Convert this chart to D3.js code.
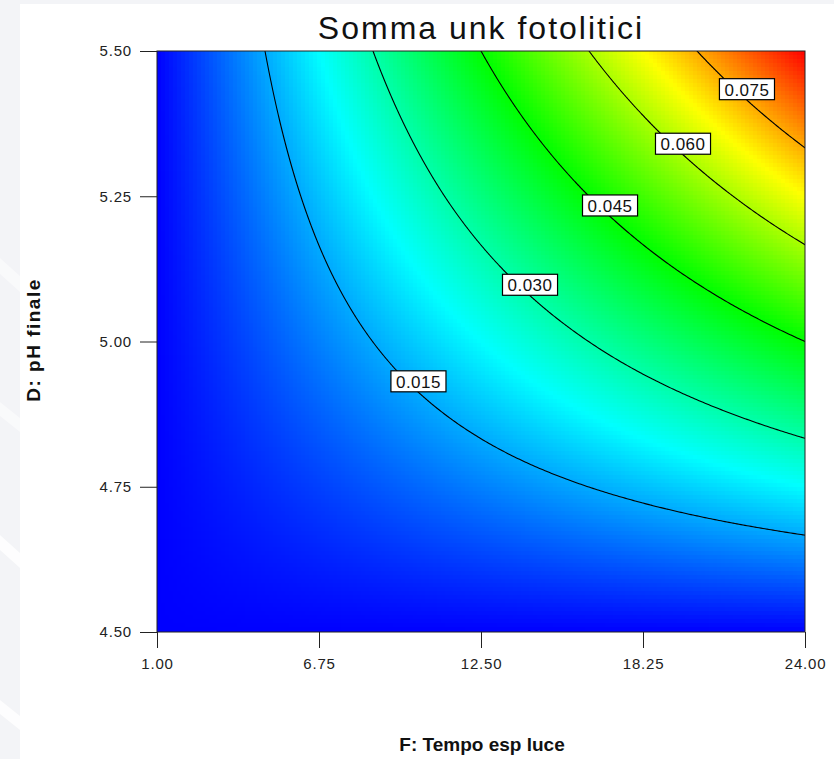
<!DOCTYPE html>
<html>
<head>
<meta charset="utf-8">
<script src="https://cdn.jsdelivr.net/npm/d3@7"></script>
<style>
  html, body { margin: 0; padding: 0; background: #ffffff; }
  svg { display: block; }
  text { font-family: "Liberation Sans", Arial, sans-serif; }
</style>
</head>
<body>
<svg id="chart" width="834" height="759"></svg>
<script>
// Response surface "Somma unk fotolitici" over F (Tempo esp luce) and D (pH finale)
const fValues = [1, 6.75, 12.5, 18.25, 24];
const dValues = [4.5, 4.75, 5.0, 5.25, 5.5];
// rows follow dValues (bottom to top), columns follow fValues
const response = [
  [0.0000, 0.0000, 0.0000, 0.0000, 0.0000],
  [0.0000, 0.0056, 0.0113, 0.0169, 0.0225],
  [0.0000, 0.0113, 0.0225, 0.0338, 0.0450],
  [0.0000, 0.0169, 0.0338, 0.0506, 0.0675],
  [0.0000, 0.0225, 0.0450, 0.0675, 0.0900]
];
const contourLevels = [0.015, 0.030, 0.045, 0.060, 0.075];
const contourLabels = ["0.015", "0.030", "0.045", "0.060", "0.075"];
const labelAtF = [10.28, 14.24, 17.08, 19.67, 21.94];
const xTicks = [1, 6.75, 12.5, 18.25, 24];
const yTicks = [4.5, 4.75, 5.0, 5.25, 5.5];
const colorStops = [0, 0.0225, 0.045, 0.0675, 0.09];
const colorRange = ["#0000ff", "#00ffff", "#00ff00", "#ffff00", "#ff0000"];

const svg = d3.select("#chart");
const margin = { left: 157, top: 51 };
const W = 648, H = 581;

// page background: pale strip on the left and top edges with light diagonal bands
svg.append("rect").attr("width", 834).attr("height", 759).attr("fill", "#f3f4f7");
svg.append("rect").attr("x", 20).attr("y", 4).attr("width", 814).attr("height", 755).attr("fill", "#ffffff");
const deco = svg.append("g").attr("fill", "#ffffff");
deco.append("path").attr("d", "M0,258 L20,276 L20,292 L0,274 Z").attr("opacity", 0.5);
deco.append("path").attr("d", "M0,402 L20,418 L20,432 L0,416 Z").attr("opacity", 0.5);
deco.append("path").attr("d", "M0,535 L20,553 L20,568 L0,550 Z").attr("opacity", 0.8);
deco.append("path").attr("d", "M0,700 L20,716 L20,730 L0,714 Z").attr("opacity", 0.8);

const x = d3.scaleLinear().domain([1, 24]).range([0, W]);
const y = d3.scaleLinear().domain([4.5, 5.5]).range([H, 0]);
const color = d3.scaleLinear().domain(colorStops).range(colorRange).clamp(true);

// bilinear evaluation of the response grid (extends linearly past the edges)
function cellIndex(arr, v) {
  const i = d3.bisectRight(arr, v) - 1;
  return Math.max(0, Math.min(arr.length - 2, i));
}
function surface(f, d) {
  const i = cellIndex(fValues, f), j = cellIndex(dValues, d);
  const tx = (f - fValues[i]) / (fValues[i + 1] - fValues[i]);
  const ty = (d - dValues[j]) / (dValues[j + 1] - dValues[j]);
  const a = response[j][i], b = response[j][i + 1];
  const c = response[j + 1][i], e = response[j + 1][i + 1];
  return (a * (1 - tx) + b * tx) * (1 - ty) + (c * (1 - tx) + e * tx) * ty;
}

const plot = svg.append("g").attr("transform", `translate(${margin.left},${margin.top})`);
svg.append("defs").append("clipPath").attr("id", "plotClip")
  .append("rect").attr("width", W).attr("height", H);

// colour field, painted in small square cells
const cell = 4;
const cols = Math.ceil(W / cell), rows = Math.ceil(H / cell);
const canvas = document.createElement("canvas");
canvas.width = cols; canvas.height = rows;
const ctx = canvas.getContext("2d");
const img = ctx.createImageData(cols, rows);
for (let j = 0; j < rows; j++) {
  for (let i = 0; i < cols; i++) {
    const v = surface(x.invert((i + 0.5) * cell), y.invert(Math.min(H, (j + 0.5) * cell)));
    const c = d3.rgb(color(v));
    const k = (j * cols + i) * 4;
    img.data[k] = c.r; img.data[k + 1] = c.g; img.data[k + 2] = c.b; img.data[k + 3] = 255;
  }
}
ctx.putImageData(img, 0, 0);
plot.append("g").attr("clip-path", "url(#plotClip)")
  .append("image")
  .attr("href", canvas.toDataURL())
  .attr("width", cols * cell).attr("height", rows * cell)
  .attr("preserveAspectRatio", "none")
  .style("image-rendering", "pixelated");

// contour lines from a fine sampling of the surface (padded past the frame)
const s = 2;
const nx = Math.ceil(W / s) + 3, ny = Math.ceil(H / s) + 3;
const grid = new Array(nx * ny);
for (let j = 0; j < ny; j++) {
  for (let i = 0; i < nx; i++) {
    grid[i + j * nx] = surface(x.invert((i - 1) * s), y.invert((j - 1) * s));
  }
}
const contours = d3.contours().size([nx, ny]).thresholds(contourLevels)(grid);
const toPx = p => [(p[0] - 1.5) * s, (p[1] - 1.5) * s];
const ringPath = ring => "M" + ring.map(p => toPx(p).join(",")).join("L") + "Z";
plot.append("g").attr("clip-path", "url(#plotClip)")
  .selectAll("path").data(contours).join("path")
  .attr("d", c => c.coordinates.map(poly => poly.map(ringPath).join("")).join(""))
  .attr("fill", "none").attr("stroke", "#000").attr("stroke-width", 1.1);

// contour labels sit just above the line
function levelD(f, level) {
  let lo = 4.5, hi = 5.5;
  for (let n = 0; n < 50; n++) {
    const mid = (lo + hi) / 2;
    if (surface(f, mid) < level) lo = mid; else hi = mid;
  }
  return (lo + hi) / 2;
}
contourLevels.forEach((level, k) => {
  const px = x(labelAtF[k]);
  const py = y(levelD(labelAtF[k], level));
  const g = plot.append("g");
  const t = g.append("text").attr("x", px).attr("y", py - 4.5)
    .attr("text-anchor", "middle")
    .attr("font-size", 17).attr("letter-spacing", "0.5px").attr("fill", "#111")
    .text(contourLabels[k]);
  const w = t.node().getComputedTextLength();
  g.insert("rect", "text")
    .attr("x", px - w / 2 - 5).attr("y", py - 21.5)
    .attr("width", w + 10).attr("height", 21)
    .attr("fill", "#fff").attr("stroke", "#000").attr("stroke-width", 1.2);
});

// frame
plot.append("rect").attr("width", W).attr("height", H)
  .attr("fill", "none").attr("stroke", "#222").attr("stroke-width", 1);

// axes
const fmt = d3.format(".2f");
const xAxis = plot.append("g").attr("transform", `translate(0,${H})`)
  .call(d3.axisBottom(x).tickValues(xTicks).tickFormat(fmt).tickSize(16).tickSizeOuter(0).tickPadding(10));
const yAxis = plot.append("g")
  .call(d3.axisLeft(y).tickValues(yTicks).tickFormat(fmt).tickSize(17).tickSizeOuter(0).tickPadding(8));
[xAxis, yAxis].forEach(a => {
  a.select(".domain").remove();
  a.selectAll(".tick line").attr("stroke", "#222");
  a.selectAll(".tick text").attr("font-family", "'Liberation Sans', Arial, sans-serif")
    .attr("font-size", 15).attr("letter-spacing", "0.8px").attr("fill", "#222");
});

// titles
svg.append("text").attr("x", 481).attr("y", 39).attr("text-anchor", "middle")
  .attr("font-size", 32).attr("letter-spacing", "2px").attr("fill", "#111")
  .text("Somma unk fotolitici");
svg.append("text").attr("x", 482).attr("y", 751).attr("text-anchor", "middle")
  .attr("font-size", 19).attr("font-weight", "bold").attr("fill", "#111")
  .text("F: Tempo esp luce");
svg.append("text").attr("transform", "translate(40,340) rotate(-90)").attr("text-anchor", "middle")
  .attr("font-size", 19).attr("font-weight", "bold").attr("letter-spacing", "1.5px").attr("fill", "#111")
  .text("D: pH finale");
</script>
</body>
</html>
